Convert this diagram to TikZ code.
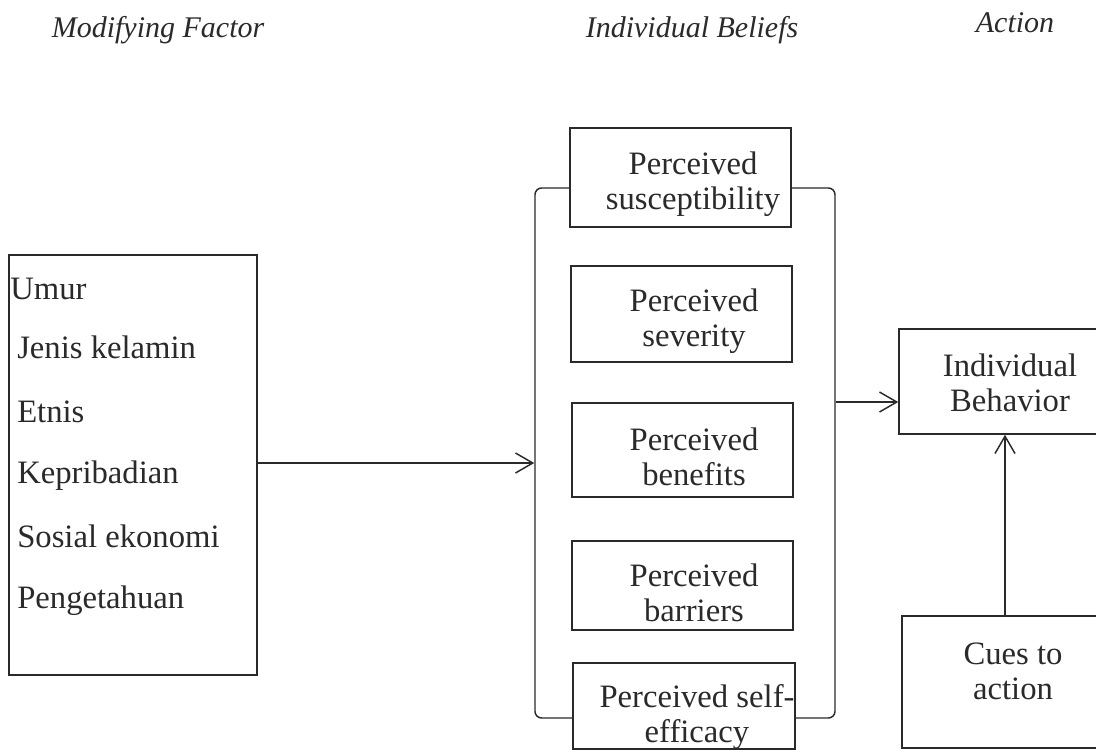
\documentclass[tikz,border=0pt]{standalone}
\usepackage{fontspec}
\setmainfont{Liberation Serif}
\usetikzlibrary{arrows.meta,fit}
\definecolor{ink}{HTML}{2A2A2A}
\begin{document}
\begin{tikzpicture}[x=0.75pt,y=-0.75pt,
  ln/.style={line width=1.1pt, draw=ink},
  box/.style={ln, fill=white, rectangle, inner sep=0pt},
  txt/.style={text=ink, font=\fontsize{24.5}{26.5}\selectfont, align=center, inner sep=0pt},
  item/.style={text=ink, font=\fontsize{24.5}{26.5}\selectfont, anchor=base west, inner sep=0pt},
  head/.style={text=ink, font=\fontsize{22.5}{25}\selectfont\itshape, anchor=base, inner sep=0pt},
  arr/.style={ln, -{Straight Barb[length=13pt,width=15pt]}}]
\useasboundingbox (0,0) rectangle (1096,751);
\clip (0,0) rectangle (1096,751);
% headings
\node[head] (h1) at (158,37) {Modifying Factor};
\node[head] (h2) at (692,37) {Individual Beliefs};
\node[head] (h3) at (1015,32) {Action};
% left box
\node[box, fit={(9,255) (257,675)}] (lb) {};
\node[item] (u1) at (10,299) {Umur};
\node[item] (u2) at (17,358) {Jenis kelamin};
\node[item] (u3) at (17,422) {Etnis};
\node[item] (u4) at (17,483) {Kepribadian};
\node[item] (u5) at (17,547) {Sosial ekonomi};
\node[item] (u6) at (17,608) {Pengetahuan};
% bracket
\node[ln, rounded corners=5pt, inner sep=0pt, fit={(535,188) (835,718)}] (br) {};
% belief boxes
\node[box, fit={(570,128) (791,227)}] (b1) {};
\node[box, fit={(571,266) (792,362)}] (b2) {};
\node[box, fit={(572,403) (793,497)}] (b3) {};
\node[box, fit={(572,541) (793,630)}] (b4) {};
\node[box, fit={(573,663) (795,749)}] (b5) {};
\node[txt] (t1) at (693,184) {Perceived\\susceptibility};
\node[txt] (t2) at (694,321) {Perceived\\severity};
\node[txt] (t3) at (694,457) {Perceived\\benefits};
\node[txt] (t4) at (694,593) {Perceived\\barriers};
\node[txt] (t5) at (697,717) {Perceived self-\\efficacy};
% action boxes
\node[box, fit={(899,329) (1110,434)}] (ib) {};
\node[box, fit={(902,616) (1110,748)}] (cu) {};
\node[txt] (tib) at (1010,383) {Individual\\Behavior};
\node[txt] (tcu) at (1013,671) {Cues to\\action};
% connectors
\coordinate (a1) at (0,463);
\coordinate (a2) at (0,402);
\coordinate (a3) at (1005,0);
\draw[arr] (lb.east |- a1) -- (br.west |- a1);
\draw[arr] (br.east |- a2) -- (ib.west |- a2);
\draw[arr] (cu.north -| a3) -- (ib.south -| a3);
\end{tikzpicture}
\end{document}
